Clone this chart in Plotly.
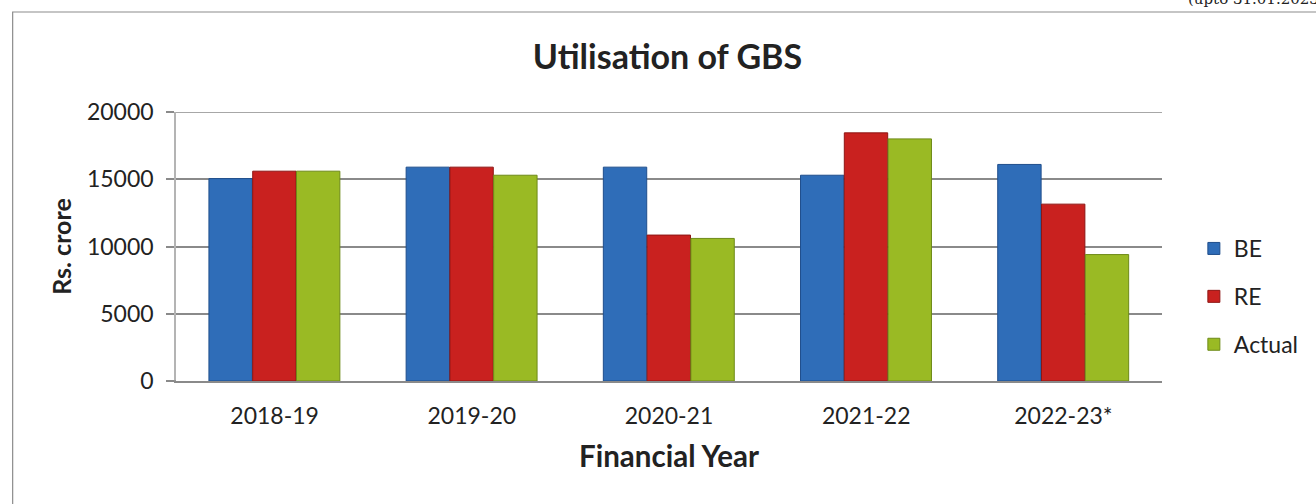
import plotly.graph_objects as go

years = ["2018-19", "2019-20", "2020-21", "2021-22", "2022-23*"]
be = [15050, 15900, 15900, 15300, 16100]
re = [15600, 15900, 10850, 18450, 13150]
actual = [15600, 15300, 10600, 18000, 9400]
series_names = ["BE", "RE", "Actual"]
colors = ["#2F6DB8", "#C9211F", "#9ABA24"]
line_colors = ["#1F4E8C", "#8E1614", "#6E8A18"]
offsets = [-0.333, -0.111, 0.111]
y_max = 20000

FONT = "Lato, 'Open Sans', sans-serif"

fig = go.Figure()
for name, vals, c, lc, off in zip(series_names, [be, re, actual], colors, line_colors, offsets):
    fig.add_trace(go.Bar(
        x=years, y=vals, name=name, legendgroup=name,
        width=0.22, offset=off,
        marker=dict(color=c, line=dict(color=lc, width=1)),
    ))

L, R, T, B = 176, 1166, 112, 381
W, H = 1316, 504

def px_x(p):
    return (p - L) / (R - L)

def px_y(p):
    return (B - p) / (B - T)

fig.update_layout(
    width=W, height=H,
    margin=dict(l=L, r=W - R, t=T, b=H - B, pad=0),
    paper_bgcolor="white", plot_bgcolor="white",
    barmode="group",
    font=dict(family=FONT, size=20, color="#222"),
    title=dict(text="<b>Utilisation of GBS</b>", x=667.5 / W,
               xanchor="center", xref="container",
               y=1 - 57 / H, yanchor="middle", font=dict(size=34, family=FONT, color="#222")),
    xaxis=dict(showgrid=False, showline=True, linecolor="#8a8a8a", linewidth=1.5,
               ticks="", tickfont=dict(size=23), ticklabelstandoff=14,
               title=dict(text="<b>Financial Year</b>", font=dict(size=29.5), standoff=18)),
    yaxis=dict(range=[0, y_max], dtick=5000, tickformat="d", showgrid=True,
               gridcolor="#8a8a8a", gridwidth=1.5,
               zeroline=False, showline=True, linecolor="#b4b4b4", linewidth=1.5,
               ticks="outside", ticklen=8,
               tickcolor="#8a8a8a", tickwidth=1.5, tickfont=dict(size=23),
               ticklabelstandoff=8,
               title=dict(text="<b>Rs. crore</b>", font=dict(size=25), standoff=8)),
    legend=dict(x=px_x(1198), y=px_y(227), xanchor="left", yanchor="top",
                font=dict(size=23), tracegroupgap=15, traceorder="grouped",
                bgcolor="rgba(0,0,0,0)", itemwidth=30),
    showlegend=True,
)

# top gridline at the axis maximum (plotly hides the one on the edge)
fig.add_shape(type="line", xref="paper", yref="y",
              x0=0, x1=1, y0=y_max, y1=y_max,
              line=dict(color="#8a8a8a", width=1.5), layer="below")

# bottom axis line extension to match gridline ticks
fig.add_shape(type="line", xref="paper", yref="paper",
              x0=px_x(168), x1=0, y0=0, y1=0,
              line=dict(color="#8a8a8a", width=1.5))

# chart frame
fig.add_shape(type="rect", xref="paper", yref="paper",
              x0=px_x(12), x1=px_x(1330), y0=px_y(520), y1=px_y(12),
              line=dict(color="#8c8c8c", width=1.2), fillcolor="rgba(0,0,0,0)", layer="below")

fig.add_annotation(text="(upto 31.01.2023)", xref="paper", yref="paper",
                   x=px_x(1190), y=px_y(10), xanchor="left", yanchor="bottom",
                   showarrow=False, font=dict(family="'DejaVu Serif', 'Liberation Serif', serif", size=15, color="#222"))

fig.write_html("out.html")
